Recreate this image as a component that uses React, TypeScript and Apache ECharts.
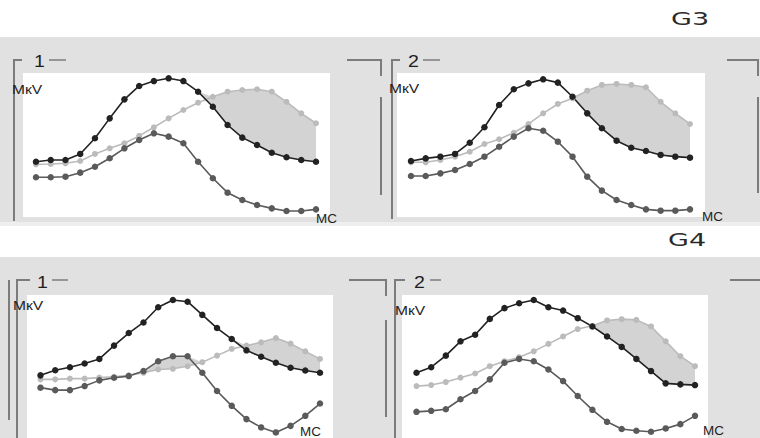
import React, { useEffect, useRef } from "react";
import * as echarts from "echarts";

// ---- data (µV, arbitrary scale 0..100), 20 samples per trace ----
const samples = ["0", "1", "2", "3", "4", "5", "6", "7", "8", "9", "10", "11", "12", "13", "14", "15", "16", "17", "18", "19"];

const black1 = [38.4, 39.6, 39.6, 43.8, 54.7, 68.5, 81.7, 91.0, 94.4, 96.3, 94.4, 87.0, 76.6, 63.9, 55.1, 50.0, 44.6, 41.5, 39.6, 38.4];
const light1 = [36.6, 36.8, 37.3, 38.9, 43.8, 47.7, 51.2, 56.3, 62.3, 68.5, 74.3, 79.4, 83.5, 87.0, 88.2, 88.7, 87.0, 80.0, 72.0, 65.1];
const mid1 = [27.6, 27.6, 28.0, 30.8, 34.9, 40.8, 47.7, 53.5, 58.1, 55.8, 51.2, 38.4, 26.9, 16.9, 11.8, 8.3, 6.0, 4.2, 4.2, 5.3];

const black2 = [38.9, 40.7, 41.9, 43.8, 51.6, 62.3, 77.8, 88.7, 92.8, 95.6, 93.3, 83.5, 72.0, 61.6, 53.0, 48.1, 45.8, 43.1, 41.9, 41.2];
const light2 = [38.0, 38.0, 39.6, 41.9, 45.3, 50.7, 54.0, 58.5, 64.6, 72.0, 78.5, 82.4, 87.7, 91.7, 92.4, 91.7, 90.1, 80.0, 72.0, 64.6];
const mid2 = [28.5, 28.5, 30.3, 32.6, 36.8, 41.9, 48.8, 55.8, 61.6, 59.9, 52.3, 41.9, 28.0, 18.3, 11.8, 8.3, 5.3, 4.4, 4.4, 5.3];

const black3 = [43.8, 47.4, 49.5, 52.1, 55.3, 64.6, 73.4, 80.8, 91.4, 96.5, 95.3, 86.1, 76.9, 69.2, 61.3, 56.8, 52.6, 49.1, 47.2, 45.6];
const light3 = [41.0, 41.0, 41.5, 41.5, 42.2, 42.8, 43.8, 45.6, 47.9, 48.4, 50.2, 53.0, 57.6, 62.3, 64.6, 66.9, 69.9, 66.0, 60.6, 55.3];
const mid3 = [35.2, 33.5, 33.5, 36.3, 40.3, 42.1, 43.3, 46.8, 53.7, 57.2, 57.2, 45.6, 32.9, 22.5, 13.2, 7.4, 3.9, 8.5, 15.5, 24.1];

const black4 = [45.6, 49.5, 57.6, 67.6, 72.2, 83.3, 90.8, 94.2, 96.5, 91.4, 89.1, 83.8, 78.0, 71.0, 63.7, 55.3, 46.8, 38.2, 37.5, 37.0];
const light4 = [36.3, 37.0, 39.1, 42.2, 45.1, 50.2, 53.7, 56.5, 60.6, 65.8, 71.0, 76.2, 78.5, 82.2, 83.1, 82.6, 78.0, 67.6, 57.2, 50.2];
const mid4 = [18.3, 19.0, 20.1, 27.1, 32.9, 41.0, 52.6, 55.3, 53.7, 47.9, 39.8, 29.4, 19.7, 11.3, 6.3, 5.1, 4.4, 6.7, 9.7, 15.5];

const groupTitles = ["G3", "G4"];
const panelNumbers = ["1", "2", "1", "2"];
const yUnit = "MкV";
const xUnit = "MC";

// ---- styling / layout ----
const FONT = '"Liberation Sans", Arial, sans-serif';
const BAND = "#e1e1e1";
const FILL = "#d3d3d3";
const FRAME = "#7c7c7c";
const C_BLACK = "#222222";
const C_MID = "#5a5a5a";
const C_LIGHT = "#bbbbbb";

// plot: white plotting box; grid: span of the samples inside it
const panels = [
  { black: black1, light: light1, mid: mid1, plot: [23, 73, 307, 144], grid: { left: 36, top: 73, width: 280, height: 144 } },
  { black: black2, light: light2, mid: mid2, plot: [397, 73, 308, 144], grid: { left: 411, top: 73, width: 279, height: 144 } },
  { black: black3, light: light3, mid: mid3, plot: [27, 295, 306, 144], grid: { left: 40.5, top: 295, width: 279.5, height: 144 } },
  { black: black4, light: light4, mid: mid4, plot: [402, 295, 306, 144], grid: { left: 416.5, top: 295, width: 278.5, height: 144 } },
];

function buildOption() {
  const grid: any[] = [];
  const xAxis: any[] = [];
  const yAxis: any[] = [];
  const series: any[] = [];

  panels.forEach((p, i) => {
    grid.push({ ...p.grid, show: false });
    xAxis.push({ type: "category", gridIndex: i, data: samples, boundaryGap: false, show: false });
    yAxis.push({ type: "value", gridIndex: i, min: 0, max: 100, show: false });

    const hidden = { showSymbol: false, symbol: "none", lineStyle: { width: 0, opacity: 0 }, silent: true };
    // shaded area where light trace lies above black trace
    series.push({ type: "line", xAxisIndex: i, yAxisIndex: i, stack: "lb" + i, data: p.black, ...hidden });
    series.push({
      type: "line", xAxisIndex: i, yAxisIndex: i, stack: "lb" + i,
      data: p.light.map((v, k) => Math.max(0, v - p.black[k])),
      areaStyle: { color: FILL, opacity: 1 }, ...hidden,
    });
    // shaded area where mid trace lies above light trace
    series.push({ type: "line", xAxisIndex: i, yAxisIndex: i, stack: "ml" + i, data: p.light, ...hidden });
    series.push({
      type: "line", xAxisIndex: i, yAxisIndex: i, stack: "ml" + i,
      data: p.mid.map((v, k) => Math.max(0, v - p.light[k])),
      areaStyle: { color: FILL, opacity: 1 }, ...hidden,
    });

    const line = (data: number[], color: string, size: number) => ({
      type: "line", xAxisIndex: i, yAxisIndex: i, data,
      symbol: "circle", symbolSize: size, showSymbol: true,
      lineStyle: { color, width: 1.6 }, itemStyle: { color },
      silent: true,
    });
    series.push(line(p.light, C_LIGHT, 6));
    series.push(line(p.mid, C_MID, 6.5));
    series.push(line(p.black, C_BLACK, 6.5));
  });

  const txt = (text: string, x: number, y: number, size: number, scaleX: number, color = "#1e1e1e", family = FONT) => ({
    type: "text", x, y, scaleX, z: 100,
    style: {
      text, fill: color, fontSize: size, fontFamily: family,
      align: "left", verticalAlign: "middle", textAlign: "left", textVerticalAlign: "middle",
    },
  });
  const pl = (points: number[][], w = 2) => ({
    type: "polyline", z: 100, shape: { points },
    style: { stroke: FRAME, lineWidth: w, fill: null },
  });

  const graphic: any[] = [
    // background bands
    { type: "rect", z: -10, shape: { x: 0, y: 37, width: 760, height: 185 }, style: { fill: BAND } },
    { type: "rect", z: -10, shape: { x: 0, y: 222, width: 760, height: 4 }, style: { fill: "#eeeeee" } },
    { type: "rect", z: -10, shape: { x: 0, y: 257, width: 760, height: 181 }, style: { fill: BAND } },
    // white plotting boxes
    ...panels.map((p) => ({
      type: "rect", z: -5,
      shape: { x: p.plot[0], y: p.plot[1], width: p.plot[2], height: p.plot[3] },
      style: { fill: "#ffffff" },
    })),

    // panel 1 frame
    pl([[22, 60], [14, 60], [14, 221]]),
    pl([[49, 60], [66, 60]], 1.5),
    pl([[347, 60], [381, 60], [381, 76]]),
    pl([[381, 97], [381, 195]]),
    // panel 2 frame
    pl([[400, 60], [392, 60], [392, 219]]),
    pl([[423, 60], [440, 60]], 1.5),
    pl([[727, 60], [758, 60], [758, 76]]),
    pl([[758, 97], [758, 193]]),
    // panel 3 frame
    pl([[9, 280], [9, 420]]),
    pl([[30, 280], [17, 280], [17, 438]]),
    pl([[52, 280], [68, 280]], 1.5),
    pl([[349, 280], [386, 280], [386, 296]]),
    pl([[386, 320], [386, 417]]),
    // panel 4 frame
    pl([[405, 280], [395, 280], [395, 438]]),
    pl([[430, 280], [441, 280]], 1.5),
    pl([[730, 280], [760, 280]]),

    // titles
    txt(groupTitles[0], 671, 19, 18, 1.5, "#2a2a2a", '"DejaVu Sans", sans-serif'),
    txt(groupTitles[1], 668, 240, 18, 1.5, "#2a2a2a", '"DejaVu Sans", sans-serif'),

    // panel numbers
    txt(panelNumbers[0], 34, 61, 17, 1.15),
    txt(panelNumbers[1], 408, 61, 17, 1.15),
    txt(panelNumbers[2], 37, 282, 17, 1.15),
    txt(panelNumbers[3], 414, 282, 17, 1.15),

    // units
    txt(yUnit, 12, 89, 13, 1.2),
    txt(yUnit, 389, 88, 13, 1.2),
    txt(yUnit, 13, 305, 13, 1.2),
    txt(yUnit, 395, 310, 13, 1.2),
    txt(xUnit, 316, 219, 12, 1.12),
    txt(xUnit, 702, 217, 12, 1.12),
    txt(xUnit, 300, 432, 12, 1.12),
    txt(xUnit, 703, 431, 12, 1.12),
  ];

  return {
    animation: false,
    backgroundColor: "#ffffff",
    grid,
    xAxis,
    yAxis,
    series,
    graphic,
  };
}

export default function App() {
  const ref = useRef<HTMLDivElement>(null);
  useEffect(() => {
    if (!ref.current) return;
    const chart = echarts.init(ref.current, undefined, { renderer: "svg" });
    chart.setOption(buildOption() as any);
    return () => chart.dispose();
  }, []);
  return (
    <div
      ref={ref}
      style={{ position: "fixed", left: 0, top: 0, width: 760, height: 438, background: "#fff" }}
    />
  );
}
